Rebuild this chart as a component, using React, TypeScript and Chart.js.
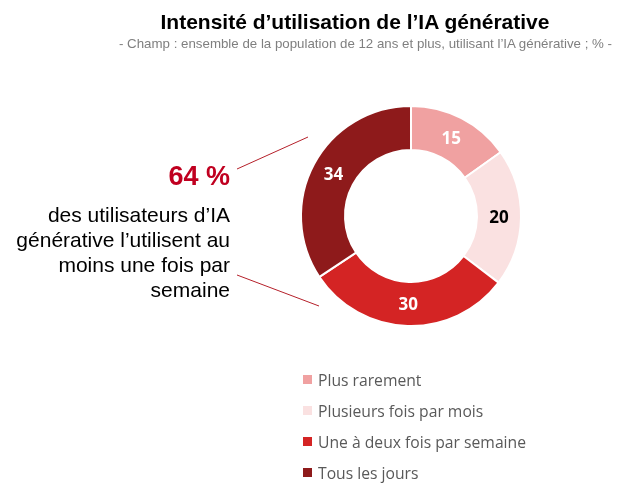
import React, { useEffect, useRef } from "react";
import { Chart, registerables } from "chart.js";

Chart.register(...registerables);

const categories = [
  "Plus rarement",
  "Plusieurs fois par mois",
  "Une à deux fois par semaine",
  "Tous les jours",
];
const values = [15, 20, 30, 34];
const colors = ["#F0A1A1", "#FAE1E1", "#D42424", "#8E1A1B"];
const labelColors = ["#FFFFFF", "#000000", "#FFFFFF", "#FFFFFF"];

const title = "Intensité d’utilisation de l’IA générative";
const subtitle =
  "- Champ : ensemble de la population de 12 ans et plus, utilisant l’IA générative ; % -";
const highlight = "64 %";
const highlightLines = [
  "des utilisateurs d’IA",
  "générative l’utilisent au",
  "moins une fois par",
  "semaine",
];

const valueLabels = {
  id: "valueLabels",
  afterDatasetsDraw(chart: any) {
    const ctx = chart.ctx;
    const meta = chart.getDatasetMeta(0);
    ctx.save();
    ctx.font = "bold 17px 'Open Sans', sans-serif";
    ctx.textAlign = "center";
    ctx.textBaseline = "middle";
    meta.data.forEach((arc: any, i: number) => {
      const p = arc.tooltipPosition();
      ctx.fillStyle = labelColors[i];
      ctx.fillText(String(values[i]), p.x, p.y + 1);
    });
    ctx.restore();
  },
};

const leaderLines = {
  id: "leaderLines",
  afterDraw(chart: any) {
    const ctx = chart.ctx;
    ctx.save();
    ctx.strokeStyle = "#B5202A";
    ctx.lineWidth = 1;
    ctx.beginPath();
    ctx.moveTo(237, 169);
    ctx.lineTo(308, 137);
    ctx.moveTo(237, 275);
    ctx.lineTo(319, 306);
    ctx.stroke();
    ctx.restore();
  },
};

export default function App() {
  const ref = useRef<HTMLCanvasElement>(null);
  useEffect(() => {
    document.body.style.margin = "0";
    const chart = new Chart(ref.current!, {
      type: "doughnut",
      data: {
        labels: categories,
        datasets: [
          {
            data: values,
            backgroundColor: colors,
            borderColor: "#FFFFFF",
            borderWidth: 2,
          },
        ],
      },
      options: {
        animation: false,
        responsive: false,
        cutout: "60%",
        layout: { padding: { left: 300, right: 102, top: 105, bottom: 174 } },
        plugins: {
          legend: { display: false },
          tooltip: { enabled: false },
        },
      },
      plugins: [valueLabels, leaderLines],
    });
    return () => chart.destroy();
  }, []);

  return (
    <div
      style={{
        position: "relative",
        width: 624,
        height: 501,
        background: "#fff",
        fontFamily: "'Liberation Sans', Arial, sans-serif",
        overflow: "hidden",
      }}
    >
      <canvas
        ref={ref}
        width={624}
        height={501}
        style={{ position: "absolute", left: 0, top: 0 }}
      />
      <div
        style={{
          position: "absolute",
          left: 0,
          width: 710,
          top: 10,
          textAlign: "center",
          fontWeight: "bold",
          fontSize: 21,
          color: "#000",
          lineHeight: "24px",
          whiteSpace: "nowrap",
        }}
      >
        {title}
      </div>
      <div
        style={{
          position: "absolute",
          right: 12,
          top: 36,
          fontSize: 13.3,
          color: "#7F7F7F",
          lineHeight: "16px",
          whiteSpace: "nowrap",
        }}
      >
        {subtitle}
      </div>
      <div
        style={{
          position: "absolute",
          right: 624 - 230,
          top: 160,
          textAlign: "right",
          whiteSpace: "nowrap",
        }}
      >
        <div
          style={{
            fontWeight: "bold",
            fontSize: 27,
            color: "#C00020",
            lineHeight: "32px",
          }}
        >
          {highlight}
        </div>
        <div style={{ fontSize: 21, color: "#000", lineHeight: "25px", marginTop: 10 }}>
          {highlightLines.map((l, i) => (
            <div key={i}>{l}</div>
          ))}
        </div>
      </div>
      <div
        style={{
          position: "absolute",
          left: 303,
          top: 364,
          fontFamily: "'Open Sans', sans-serif",
          fontSize: 15.7,
          color: "#595959",
        }}
      >
        {categories.map((c, i) => (
          <div
            key={i}
            style={{ display: "flex", alignItems: "center", height: 31 }}
          >
            <span
              style={{
                display: "inline-block",
                width: 9,
                height: 9,
                background: colors[i],
                marginRight: 6,
              }}
            />
            <span>{c}</span>
          </div>
        ))}
      </div>
    </div>
  );
}
